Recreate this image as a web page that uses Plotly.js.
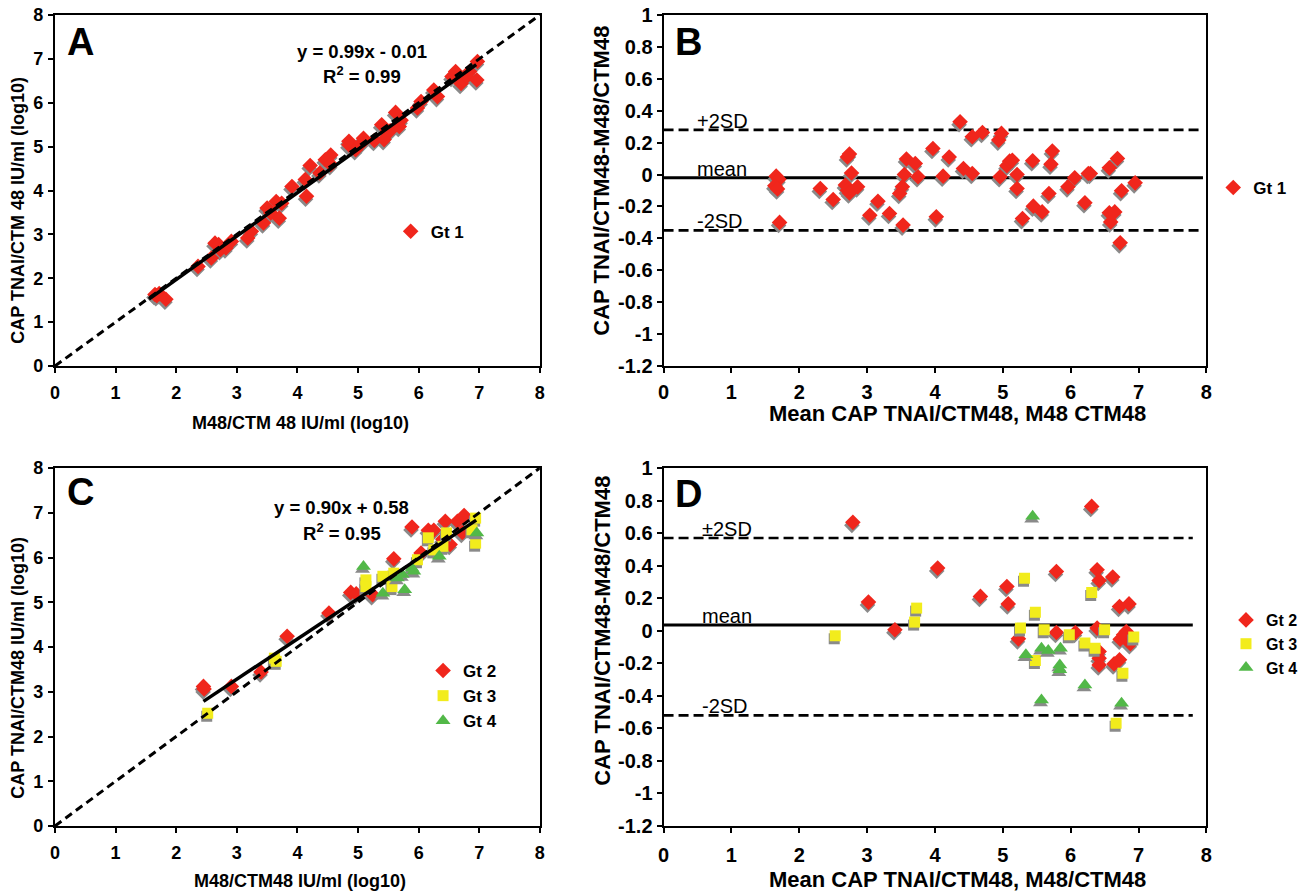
<!DOCTYPE html>
<html><head><meta charset="utf-8">
<script src="https://cdn.plot.ly/plotly-3.0.1.min.js"></script>
<style>html,body{margin:0;padding:0;background:#fff}#chart{width:1303px;height:893px}</style>
</head><body><div id="chart"></div>
<script>
// ---------- DATA ----------
// Panel A: Gt 1, M48/CTM48 (x) vs CAP TNAI/CTM48 (y), log10 IU/ml
const aGt1X = [1.65,1.68,1.72,1.83,2.36,2.58,2.64,2.70,2.73,2.82,2.91,3.18,3.24,3.44,3.50,3.56,3.65,3.70,3.74,3.91,4.15,4.13,4.21,4.37,4.46,4.55,4.55,4.85,4.85,4.96,5.06,5.09,5.27,5.39,5.43,5.53,5.62,5.68,5.71,5.98,6.04,6.25,6.31,6.55,6.61,6.70,6.73,6.79,6.84,6.97,6.96];
const aGt1Y = [1.63,1.60,1.65,1.52,2.27,2.46,2.80,2.77,2.65,2.69,2.84,2.92,3.07,3.26,3.60,3.49,3.75,3.37,3.71,4.09,3.87,4.25,4.57,4.40,4.70,4.81,4.59,5.12,5.04,4.93,5.08,5.19,5.14,5.50,5.16,5.36,5.78,5.46,5.60,5.88,6.03,6.29,6.14,6.60,6.71,6.44,6.52,6.60,6.71,6.94,6.52];
const aFit = {slope: 0.99, intercept: -0.01, xStart: 1.55, xEnd: 6.95};
const aEquation = ['y = 0.99x - 0.01', 'R<sup>2</sup> = 0.99'];

// Panel B: Bland-Altman Gt 1
const bGt1X = [1.66,1.70,1.64,1.68,1.71,2.31,2.50,2.68,2.71,2.74,2.71,2.74,2.77,2.86,3.04,3.16,3.33,3.48,3.52,3.53,3.55,3.58,3.71,3.75,3.97,4.02,4.12,4.21,4.37,4.42,4.55,4.55,4.70,4.94,4.98,4.96,5.06,5.10,5.14,5.21,5.21,5.29,5.44,5.45,5.58,5.68,5.71,5.73,5.96,6.06,6.21,6.26,6.29,6.57,6.57,6.59,6.65,6.69,6.75,6.73,6.95];
const bGt1Y = [-0.01,-0.03,-0.07,-0.09,-0.30,-0.087,-0.156,-0.066,0.11,0.128,-0.098,-0.115,0.01,-0.077,-0.255,-0.167,-0.244,-0.119,-0.077,-0.317,0.0,0.097,0.069,-0.014,0.163,-0.265,-0.01,0.11,0.331,0.038,0.237,0.007,0.264,0.216,0.258,-0.014,0.055,0.084,0.09,0.0,-0.087,-0.276,0.086,-0.198,-0.234,-0.119,0.065,0.147,-0.077,-0.02,-0.177,0.007,0.007,0.042,-0.24,-0.297,-0.234,0.101,-0.102,-0.428,-0.052];
const bStats = {mean: -0.02, upper: 0.28, lower: -0.35, xStart: 0, xEnd: 7.95};

// Panel C: Gt 2/3/4
const cGt2X = [2.45,2.46,2.91,3.40,3.83,4.52,4.88,4.97,5.24,5.59,5.89,6.04,6.16,6.25,6.40,6.44,6.52,6.64,6.72,6.75];
const cGt2Y = [3.12,3.06,3.12,3.44,4.24,4.76,5.22,5.19,5.17,5.97,6.68,6.10,6.61,6.61,6.41,6.81,6.29,6.81,6.56,6.94];
const cGt3X = [2.52,3.62,3.65,5.13,5.13,5.41,5.56,5.59,5.98,6.16,6.25,6.40,6.46,6.88,6.94,6.94];
const cGt3Y = [2.52,3.75,3.68,5.50,5.35,5.58,5.35,5.65,5.95,6.44,6.17,6.25,6.55,6.62,6.88,6.32];
const cGt4X = [5.09,5.41,5.65,5.73,5.77,5.89,5.92,6.34,6.96];
const cGt4Y = [5.80,5.20,5.54,5.62,5.28,5.76,5.69,6.03,6.55];
const cFit = {slope: 0.90, intercept: 0.58, xStart: 2.45, xEnd: 6.95};
const cEquation = ['y = 0.90x + 0.58', 'R<sup>2</sup> = 0.95'];

// Panel D: Bland-Altman Gt 2/3/4
const dGt2X = [2.79,3.02,3.41,4.04,4.67,5.06,5.08,5.23,5.79,5.79,6.07,6.31,6.39,6.42,6.39,6.42,6.42,6.42,6.62,6.64,6.72,6.72,6.73,6.78,6.82,6.86,6.88];
const dGt2Y = [0.666,0.176,0.006,0.385,0.211,0.272,0.165,-0.05,0.364,-0.011,-0.011,0.764,0.375,0.309,0.016,-0.128,-0.169,-0.21,0.33,-0.204,-0.179,0.149,-0.052,-0.025,-0.005,0.165,-0.08];
const dGt3X = [2.53,3.70,3.73,5.26,5.32,5.48,5.48,5.61,5.98,6.21,6.31,6.36,6.50,6.67,6.77,6.93];
const dGt3Y = [-0.031,0.053,0.139,0.016,0.323,0.114,-0.183,0.006,-0.025,-0.076,0.235,-0.107,0.006,-0.568,-0.261,-0.039];
const dGt4X = [5.44,5.34,5.57,5.67,5.85,5.84,5.84,5.57,6.21,6.75];
const dGt4Y = [0.703,-0.148,-0.107,-0.122,-0.107,-0.21,-0.24,-0.425,-0.333,-0.445];
const dStats = {mean: 0.035, upper: 0.57, lower: -0.52, xStart: 0, xEnd: 7.8};

// Axes / ticks / texts
const identityLine = [0, 8];
const logTicks = [0,1,2,3,4,5,6,7,8];
const logTickText = ['0','1','2','3','4','5','6','7','8'];
const diffTicks = [1,0.8,0.6,0.4,0.2,0,-0.2,-0.4,-0.6,-0.8,-1,-1.2];
const diffTickText = ['1','0.8','0.6','0.4','0.2','0','-0.2','-0.4','-0.6','-0.8','-1','-1.2'];
const panelLetters = ['A','B','C','D'];
const sdLabelsB = ['+2SD','mean','-2SD'];
const sdLabelsD = ['\u00b12SD','mean','-2SD'];
const axisTitles = {
  A: {x:'M48/CTM 48 IU/ml (log10)', y:'CAP TNAI/CTM 48 IU/ml (log10)'},
  B: {x:'Mean CAP TNAI/CTM48, M48 CTM48', y:'CAP TNAI/CTM48-M48/CTM48'},
  C: {x:'M48/CTM48 IU/ml (log10)', y:'CAP TNAI/CTM48 IU/ml (log10)'},
  D: {x:'Mean CAP TNAI/CTM48, M48/CTM48', y:'CAP TNAI/CTM48-M48/CTM48'}
};

// ---------- STYLE ----------
const FONT = 'Liberation Sans, Arial, Helvetica, sans-serif';
const NARROW = 'Liberation Sans Narrow, Arial Narrow, Liberation Sans, sans-serif';
const RED = '#f0261c', YELLOW = '#f2ec1c', GREEN = '#52b848', SHADOW = '#8a8a8a';
const W = 1303, H = 893;
const box = {
  A: {l: 56, r: 550, t: 15, b: 366},
  B: {l: 676, r: 1229, t: 15, b: 366},
  C: {l: 56, r: 550, t: 468, b: 826},
  D: {l: 676, r: 1229, t: 468, b: 826}
};
function dom(bx){ return {x:[bx.l/W, bx.r/W], y:[1-bx.b/H, 1-bx.t/H]}; }
const ranges = {A:{x:[0,8],y:[0,8]}, B:{x:[0,8],y:[-1.2,1]}, C:{x:[0,8],y:[0,8]}, D:{x:[0,8],y:[-1.2,1]}};
function perPx(p){ const bx=box[p], r=ranges[p]; return {x:(r.x[1]-r.x[0])/(bx.r-bx.l), y:(r.y[1]-r.y[0])/(bx.b-bx.t)}; }

const axisMap = {A:['x','y'], B:['x2','y2'], C:['x3','y3'], D:['x4','y4']};
const legendMap = {A:'legend', B:'legend2', C:'legend3', D:'legend4'};

const traces = [];
function scatter(p, xs, ys, name, symbol, color, size, show){
  const pp = perPx(p);
  traces.push({type:'scatter', mode:'markers', x: xs.map(v=>v - 1*pp.x), y: ys.map(v=>v - 3*pp.y),
    xaxis:axisMap[p][0], yaxis:axisMap[p][1], showlegend:false, hoverinfo:'skip',
    marker:{symbol:symbol, size:size, color:SHADOW, line:{width:0}}});
  traces.push({type:'scatter', mode:'markers', x: xs, y: ys, name: name,
    xaxis:axisMap[p][0], yaxis:axisMap[p][1], legend: legendMap[p], showlegend: show,
    marker:{symbol:symbol, size:size, color:color, line:{width:0}}});
}
function line(p, xs, ys, dash, width){
  traces.push({type:'scatter', mode:'lines', x: xs, y: ys, xaxis:axisMap[p][0], yaxis:axisMap[p][1],
    showlegend:false, hoverinfo:'skip', line:{color:'#000', width: width, dash: dash}});
}
function fitLine(p, f){ line(p, [f.xStart, f.xEnd], [f.slope*f.xStart+f.intercept, f.slope*f.xEnd+f.intercept], 'solid', 3.5); }
function statLines(p, s){
  line(p, [s.xStart, s.xEnd], [s.upper, s.upper], '10px,5px', 2.6);
  line(p, [s.xStart, s.xEnd], [s.mean, s.mean], 'solid', 3);
  line(p, [s.xStart, s.xEnd], [s.lower, s.lower], '10px,5px', 2.6);
}

scatter('A', aGt1X, aGt1Y, 'Gt 1', 'diamond', RED, 12, true);
line('A', identityLine, identityLine, '8px,5px', 3);
fitLine('A', aFit);
statLines('B', bStats);
scatter('B', bGt1X, bGt1Y, 'Gt 1', 'diamond', RED, 12, true);
scatter('C', cGt2X, cGt2Y, 'Gt 2', 'diamond', RED, 12, true);
scatter('C', cGt3X, cGt3Y, 'Gt 3', 'square', YELLOW, 11, true);
scatter('C', cGt4X, cGt4Y, 'Gt 4', 'triangle-up', GREEN, 13, true);
line('C', identityLine, identityLine, '8px,5px', 3);
fitLine('C', cFit);
statLines('D', dStats);
scatter('D', dGt2X, dGt2Y, 'Gt 2', 'diamond', RED, 12, true);
scatter('D', dGt3X, dGt3Y, 'Gt 3', 'square', YELLOW, 11, true);
scatter('D', dGt4X, dGt4Y, 'Gt 4', 'triangle-up', GREEN, 13, true);

function axis(p, dir, anchor, vals, text, tsize, standoff){
  const d = dom(box[p]);
  return {domain: dir==='x'?d.x:d.y, range:ranges[p][dir], anchor:anchor, tickmode:'array', tickvals:vals, ticktext:text,
    ticks:'outside', ticklen:5, tickwidth:2, tickcolor:'#000', showline:true, linecolor:'#000', linewidth:2,
    mirror:true, showgrid:false, zeroline:false, fixedrange:true, automargin:false, ticklabelstandoff:standoff,
    tickfont:{family:FONT, size:tsize, color:'#000', weight:700}};
}

const annotations = [];
function letter(p, txt, x, y){
  annotations.push({xref:axisMap[p][0], yref:axisMap[p][1], x:x, y:y, text:txt, showarrow:false,
    xanchor:'left', yanchor:'middle', font:{family:FONT, size:38, color:'#000', weight:700}});
}
letter('A', panelLetters[0], 0.16, 7.38);
letter('B', panelLetters[1], 0.145, 0.83);
letter('C', panelLetters[2], 0.16, 7.47);
letter('D', panelLetters[3], 0.145, 0.84);
function equation(p, lines, x, y1, y2){
  [y1,y2].forEach((yy,i)=>annotations.push({xref:axisMap[p][0], yref:axisMap[p][1], x:x, y:yy, text:lines[i],
    showarrow:false, xanchor:'center', yanchor:'middle', font:{family:FONT, size:18.5, color:'#000', weight:700}}));
}
equation('A', aEquation, 5.07, 7.16, 6.63);
equation('C', cEquation, 4.73, 7.11, 6.58);
function sdLabels(p, labels, s, x){
  [s.upper, s.mean, s.lower].forEach((v,i)=>annotations.push({xref:axisMap[p][0], yref:axisMap[p][1], x:x, y:v,
    text:labels[i], showarrow:false, xanchor:'left', yanchor:'bottom', yshift:-4,
    font:{family:NARROW, size:20, color:'#000'}}));
}
sdLabels('B', sdLabelsB, bStats, 0.47);
sdLabels('D', sdLabelsD, dStats, 0.54);
function titles(p, xCentre, size, yCentre){
  annotations.push({xref:'paper', yref:'paper', x:xCentre[0]/W, y:1-xCentre[1]/H, text:axisTitles[p].x, showarrow:false,
    xanchor:'center', yanchor:'middle', font:{family:FONT, size:size, color:'#000', weight:700}});
  annotations.push({xref:'paper', yref:'paper', x:yCentre[0]/W, y:1-yCentre[1]/H, text:axisTitles[p].y, showarrow:false, textangle:-90,
    xanchor:'center', yanchor:'middle', font:{family:FONT, size:size, color:'#000', weight:700}});
}
titles('A', [306, 423], 18, [18, 210]);
titles('B', [975, 413], 22, [613, 181]);
titles('C', [306, 881], 18, [18, 668]);
titles('D', [975, 879], 22, [613, 631]);

const legFont = {family:FONT, size:17, color:'#000', weight:700};
function leg(x, y, fs){ return {x:x, y:y, xanchor:'left', yanchor:'middle', xref:'paper', yref:'paper',
  bgcolor:'rgba(0,0,0,0)', borderwidth:0, font:Object.assign({}, legFont, {size:fs}), tracegroupgap:0, itemwidth:30}; }

const layout = {
  width:W, height:H, margin:{l:0,r:0,t:0,b:0}, paper_bgcolor:'#fff', plot_bgcolor:'#fff',
  showlegend:true,
  xaxis: axis('A','x','y', logTicks, logTickText, 18, 4),
  yaxis: axis('A','y','x', logTicks, logTickText, 18, 1),
  xaxis2: axis('B','x','y2', logTicks, logTickText, 20, 2),
  yaxis2: axis('B','y','x2', diffTicks, diffTickText, 20, 0),
  xaxis3: axis('C','x','y3', logTicks, logTickText, 18, 4),
  yaxis3: axis('C','y','x3', logTicks, logTickText, 18, 1),
  xaxis4: axis('D','x','y4', logTicks, logTickText, 20, 5),
  yaxis4: axis('D','y','x4', diffTicks, diffTickText, 20, 0),
  legend: leg(398/W, 1-231.7/H, 17),
  legend2: leg(1236/W, 1-188/H, 17),
  legend3: leg(431/W, 1-696/H, 17),
  legend4: leg(1249/W, 1-644/H, 16),
  annotations: annotations
};
Plotly.newPlot('chart', traces, layout, {staticPlot:true, displayModeBar:false});
</script></body></html>
